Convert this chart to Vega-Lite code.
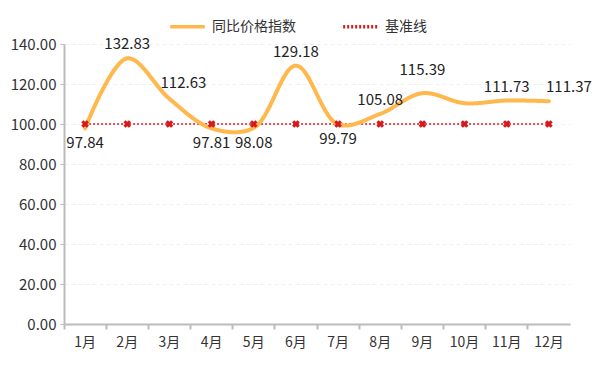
{
  "$schema": "https://vega.github.io/schema/vega-lite/v6.json",
  "width": 506,
  "height": 280,
  "autosize": {"type": "none"},
  "padding": {"left": 64, "top": 44, "right": 30, "bottom": 47},
  "background": "white",
  "config": {
    "font": "Noto Sans CJK SC",
    "view": {"stroke": null},
    "axis": {"labelFont": "Noto Sans CJK SC", "labelFontSize": 14, "labelColor": "#333333"}
  },
  "data": {
    "values": [
      {"month": "1月", "series": "同比价格指数", "value": 97.84},
      {"month": "2月", "series": "同比价格指数", "value": 132.83},
      {"month": "3月", "series": "同比价格指数", "value": 112.63},
      {"month": "4月", "series": "同比价格指数", "value": 97.81},
      {"month": "5月", "series": "同比价格指数", "value": 98.08},
      {"month": "6月", "series": "同比价格指数", "value": 129.18},
      {"month": "7月", "series": "同比价格指数", "value": 99.79},
      {"month": "8月", "series": "同比价格指数", "value": 105.08},
      {"month": "9月", "series": "同比价格指数", "value": 115.39},
      {"month": "10月", "series": "同比价格指数", "value": 110.4},
      {"month": "11月", "series": "同比价格指数", "value": 111.73},
      {"month": "12月", "series": "同比价格指数", "value": 111.37},
      {"month": "1月", "series": "基准线", "value": 100},
      {"month": "2月", "series": "基准线", "value": 100},
      {"month": "3月", "series": "基准线", "value": 100},
      {"month": "4月", "series": "基准线", "value": 100},
      {"month": "5月", "series": "基准线", "value": 100},
      {"month": "6月", "series": "基准线", "value": 100},
      {"month": "7月", "series": "基准线", "value": 100},
      {"month": "8月", "series": "基准线", "value": 100},
      {"month": "9月", "series": "基准线", "value": 100},
      {"month": "10月", "series": "基准线", "value": 100},
      {"month": "11月", "series": "基准线", "value": 100},
      {"month": "12月", "series": "基准线", "value": 100}
    ]
  },
  "encoding": {
    "x": {
      "field": "month", "type": "ordinal", "sort": null,
      "scale": {"type": "band", "paddingInner": 0, "paddingOuter": 0},
      "axis": {"title": null, "labelAngle": 0, "bandPosition": 0, "domainColor": "#bbbbbb", "domainWidth": 2, "tickColor": "#bbbbbb", "tickWidth": 2, "tickSize": 5, "labelPadding": 6, "grid": false}
    },
    "y": {
      "field": "value", "type": "quantitative",
      "scale": {"domain": [0, 140]},
      "axis": {"title": null, "values": [0, 20, 40, 60, 80, 100, 120, 140], "format": ".2f", "domainColor": "#bbbbbb", "domainWidth": 2, "tickColor": "#bbbbbb", "tickSize": 4, "labelPadding": 4, "gridColor": "#eeeeee", "gridDash": [4, 3], "labelFontSize": 15}
    }
  },
  "layer": [
    {
      "transform": [{"filter": "datum.series === '基准线'"}],
      "mark": {"type": "line", "interpolate": "linear", "strokeWidth": 1.5},
      "encoding": {
        "color": {"field": "series", "type": "nominal", "scale": {"domain": ["同比价格指数", "基准线"], "range": ["#ffb84d", "#d7191c"]}, "legend": {"title": null, "orient": "none", "legendX": 104, "legendY": -37, "direction": "horizontal", "symbolType": "stroke", "symbolStrokeWidth": 3.5, "symbolSize": 1200, "labelFontSize": 14, "labelColor": "#333333", "columnPadding": 40, "labelOffset": 5, "labelFont": "Noto Sans CJK SC"}},
        "strokeDash": {"field": "series", "type": "nominal", "scale": {"domain": ["同比价格指数", "基准线"], "range": [[1, 0], [2, 2]]}, "legend": {"title": null}}
      }
    },
    {
      "transform": [{"filter": "datum.series === '同比价格指数'"}],
      "mark": {"type": "line", "interpolate": "catmull-rom", "strokeWidth": 4, "strokeCap": "round"},
      "encoding": {
        "color": {"field": "series", "type": "nominal"},
        "strokeDash": {"field": "series", "type": "nominal"}
      }
    },
    {
      "transform": [{"filter": "datum.series === '基准线'"}],
      "mark": {"type": "point", "shape": "cross", "angle": 45, "filled": true, "size": 60, "color": "#d7191c", "opacity": 1},
      "encoding": {}
    },
    {
      "transform": [{"filter": "datum.series === '同比价格指数' && datum.value < 100"}],
      "mark": {"type": "text", "dy": 15, "fontSize": 15, "color": "#222222"},
      "encoding": {"text": {"field": "value", "type": "quantitative", "format": ".2f"}}
    },
    {
      "transform": [{"filter": "datum.series === '同比价格指数' && indexof(['2月','6月','8月','11月'], datum.month) >= 0"}],
      "mark": {"type": "text", "dy": -14, "fontSize": 15, "color": "#222222"},
      "encoding": {"text": {"field": "value", "type": "quantitative", "format": ".2f"}}
    },
    {
      "transform": [{"filter": "datum.series === '同比价格指数' && datum.month === '3月'"}],
      "mark": {"type": "text", "dy": -16, "dx": 14, "fontSize": 15, "color": "#222222"},
      "encoding": {"text": {"field": "value", "type": "quantitative", "format": ".2f"}}
    },
    {
      "transform": [{"filter": "datum.series === '同比价格指数' && datum.month === '9月'"}],
      "mark": {"type": "text", "dy": -23, "fontSize": 15, "color": "#222222"},
      "encoding": {"text": {"field": "value", "type": "quantitative", "format": ".2f"}}
    },
    {
      "transform": [{"filter": "datum.series === '同比价格指数' && datum.month === '12月'"}],
      "mark": {"type": "text", "dy": -14, "dx": 20, "fontSize": 15, "color": "#222222"},
      "encoding": {"text": {"field": "value", "type": "quantitative", "format": ".2f"}}
    }
  ]
}
